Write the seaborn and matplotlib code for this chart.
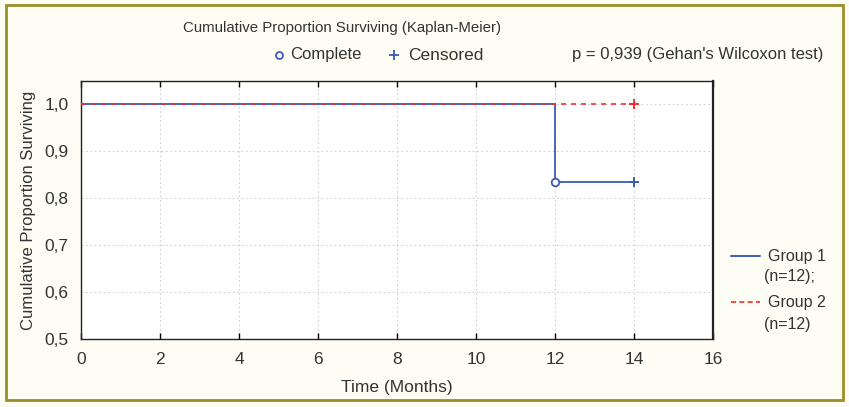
import matplotlib
matplotlib.use("Agg")
import matplotlib.pyplot as plt
import seaborn as sns
import pandas as pd
from matplotlib.patches import Rectangle
from matplotlib.lines import Line2D

# ---- data ----
g1_time = [0, 12, 14]
g1_surv = [1.0, 0.8333, 0.8333]
g2_time = [0, 14]
g2_surv = [1.0, 1.0]
complete_time = [12]
complete_surv = [0.8333]
cens1_time = [14]
cens1_surv = [0.8333]
cens2_time = [14]
cens2_surv = [1.0]
xticks = [0, 2, 4, 6, 8, 10, 12, 14, 16]
yticks = [0.5, 0.6, 0.7, 0.8, 0.9, 1.0]
ytick_labels = ["0,5", "0,6", "0,7", "0,8", "0,9", "1,0"]

BLUE = "#3a5cb8"
RED = "#ff2a2a"
TXT = "#333333"

sns.set_theme(style="white")
plt.rcParams["font.family"] = ["Liberation Sans", "DejaVu Sans"]
plt.rcParams["text.color"] = TXT

fig = plt.figure(figsize=(8.49, 4.07), dpi=100)
fig.patch.set_facecolor("#fdfdf3")
ax = fig.add_axes([81/849, 1-339/407, (713-81)/849, (339-81)/407])
ax.set_facecolor("white")

df1 = pd.DataFrame({"t": g1_time, "s": g1_surv})
df2 = pd.DataFrame({"t": g2_time, "s": g2_surv})

sns.lineplot(data=df2, x="t", y="s", ax=ax, color=RED, lw=1.2,
             linestyle=(0, (3, 3)), drawstyle="steps-post", zorder=3)
sns.lineplot(data=df1, x="t", y="s", ax=ax, color=BLUE, lw=1.3,
             drawstyle="steps-post", zorder=2)
sns.scatterplot(x=complete_time, y=complete_surv, ax=ax, marker="o",
                facecolor="white", edgecolor=BLUE, s=30, linewidth=1.3, zorder=4)
sns.scatterplot(x=cens1_time, y=cens1_surv, ax=ax, marker="+",
                color=BLUE, s=60, linewidth=1.4, zorder=4)
sns.scatterplot(x=cens2_time, y=cens2_surv, ax=ax, marker="+",
                color=RED, s=60, linewidth=1.4, zorder=4)

ax.set_xlim(0, 16)
ax.set_ylim(0.5, 1.049)
ax.set_xticks(xticks)
ax.set_yticks(yticks)
ax.set_yticklabels(ytick_labels)
ax.grid(True, color="#d0d0d0", linestyle=(0, (1.5, 2.5)), lw=0.8)
ax.tick_params(direction="in", top=True, bottom=True, left=False, length=4,
               width=1, color="black", labelsize=12.5, pad=9, labelcolor=TXT)
for sp in ax.spines.values():
    sp.set_color("#222222")
    sp.set_linewidth(1.0)
ax.spines["right"].set_linewidth(1.6)
ax.set_xlabel("Time (Months)", fontsize=12.5, labelpad=10, color=TXT)
ax.set_ylabel("Cumulative Proportion Surviving", fontsize=12, labelpad=6, color=TXT)

# border
fig.add_artist(Rectangle((6/849, 1-400/407), (843-6)/849, (400-5)/407,
                         transform=fig.transFigure, fill=False,
                         edgecolor="#9b8f2c", lw=2))

def fx(x):
    return x/849

def fy(y):
    return 1 - y/407

fig.text(fx(183), fy(28), "Cumulative Proportion Surviving (Kaplan-Meier)",
         fontsize=10.8, va="center", ha="left")
fig.add_artist(Line2D([fx(279)], [fy(55)], marker="o", mfc="white", mec=BLUE,
                      ms=5, mew=1.3, transform=fig.transFigure))
fig.text(fx(290), fy(55), "Complete", fontsize=12, va="center", ha="left")
fig.add_artist(Line2D([fx(394)], [fy(55)], marker="+", color=BLUE,
                      ms=7, mew=1.3, transform=fig.transFigure))
fig.text(fx(408), fy(55), "Censored", fontsize=12.5, va="center", ha="left")
fig.text(fx(572), fy(55), "p = 0,939 (Gehan's Wilcoxon test)", fontsize=12,
         va="center", ha="left")

# right legend
FS = 11.5
fig.add_artist(Line2D([fx(731), fx(760)], [fy(256), fy(256)], color=BLUE, lw=1.4,
                      transform=fig.transFigure))
fig.text(fx(768), fy(256), "Group 1", fontsize=FS, va="center", ha="left")
fig.text(fx(764), fy(276), "(n=12);", fontsize=FS, va="center", ha="left")
fig.add_artist(Line2D([fx(731), fx(760)], [fy(302), fy(302)], color=RED, lw=1.2,
                      linestyle=(0, (3, 2)), transform=fig.transFigure))
fig.text(fx(768), fy(302), "Group 2", fontsize=FS, va="center", ha="left")
fig.text(fx(764), fy(325), "(n=12)", fontsize=FS, va="center", ha="left")

fig.savefig("out.png", dpi=100, facecolor=fig.get_facecolor())
